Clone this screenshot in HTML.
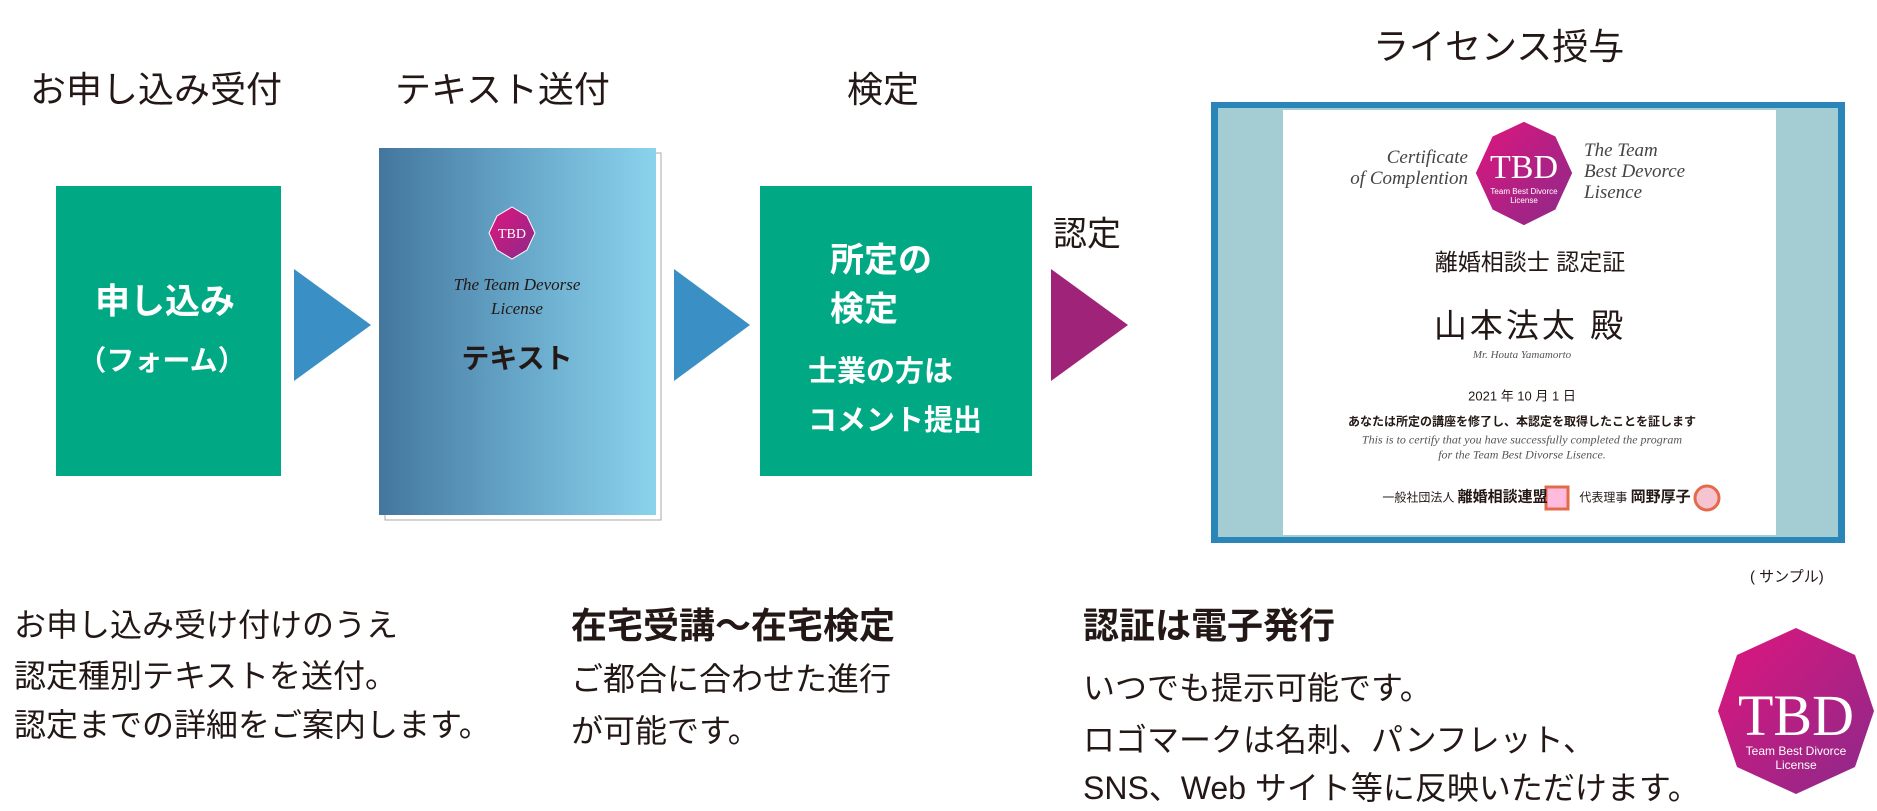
<!DOCTYPE html>
<html><head><meta charset="utf-8"><style>
body{margin:0;width:1877px;height:811px;background:#fff;position:relative;overflow:hidden;font-family:"Liberation Sans","Noto Sans CJK JP",sans-serif;color:#231815}
.a{position:absolute;white-space:nowrap}
.c{transform:translate(-50%,-50%)}
.l{transform:translateY(-50%)}
.g{background:#00a884;position:absolute}
.w{color:#fff;font-weight:bold}
.serif{font-family:"Liberation Serif","Noto Serif CJK SC",serif;font-style:italic}
</style></head><body>
<div class="a l" style="left:30px;top:87px;font-size:36px">お申し込み受付</div>
<div class="a l" style="left:395px;top:87px;font-size:36px">テキスト送付</div>
<div class="a l" style="left:847px;top:87px;font-size:36px">検定</div>
<div class="a l" style="left:1373px;top:44px;font-size:36px">ライセンス授与</div>

<div class="g" style="left:56px;top:186px;width:225px;height:290px"></div>
<div class="a c w" style="left:165px;top:299px;font-size:35px">申し込み</div>
<div class="a c w" style="left:162px;top:359px;font-size:28px">（フォーム）</div>

<svg class="a" style="left:0;top:0" width="1877" height="811">
<polygon points="294,269 371,325 294,381" fill="#3a8fc4"/>
<polygon points="674,269 750,325 674,381" fill="#3a8fc4"/>
<polygon points="1051,269 1128,325 1051,381" fill="#a0237a"/>
<rect x="385" y="153" width="276" height="367" fill="#fff" stroke="#aaa" stroke-width="1"/>
<defs><linearGradient id="bg" x1="0" x2="1"><stop offset="0" stop-color="#44769d"/><stop offset="0.5" stop-color="#66a6c8"/><stop offset="1" stop-color="#8bd3ed"/></linearGradient>
<linearGradient id="pk" x1="0" x2="1" y1="0" y2="1"><stop offset="0" stop-color="#e0157d"/><stop offset="1" stop-color="#8a2a8a"/></linearGradient></defs>
<rect x="379" y="148" width="277" height="367" fill="url(#bg)"/>
<!-- small logo -->
<path d="M512,207 L527,216 L535,233 L527,250 L512,259 L497,250 L489,233 L497,216Z" fill="url(#pk)" stroke="#fff" stroke-width="1"/>
<text x="512" y="238" font-family="Liberation Serif" font-size="14" fill="#fff" text-anchor="middle">TBD</text>
<!-- certificate -->
<rect x="1211" y="102" width="634" height="441" fill="#2a86b8"/>
<rect x="1218" y="108" width="620" height="429" fill="#a3cdd3"/>
<rect x="1283" y="110" width="493" height="425" fill="#fff"/>
<path d="M1524,121 L1556,136 L1573,173 L1556,210 L1524,226 L1492,210 L1475,173 L1492,136Z" fill="url(#pk)" stroke="#fff" stroke-width="1.5"/>
<text x="1524" y="178" font-family="Liberation Serif" font-size="34" fill="#fff" text-anchor="middle">TBD</text>
<text x="1524" y="194" font-family="Liberation Sans" font-size="8" fill="#fff" text-anchor="middle">Team Best Divorce</text>
<text x="1524" y="203" font-family="Liberation Sans" font-size="8" fill="#fff" text-anchor="middle">License</text>
<rect x="1546" y="487" width="22" height="22" fill="#fbd" stroke="#e56a4a" stroke-width="3"/>
<circle cx="1707" cy="498" r="12" fill="#f6c3d0" stroke="#e56a4a" stroke-width="3"/>
<!-- big logo -->
<path d="M1796,628 L1855,655 L1874,711 L1855,767 L1796,794 L1737,767 L1718,711 L1737,655Z" fill="url(#pk)"/>
<text x="1796" y="735" font-family="Liberation Serif" font-size="58" fill="#fff" text-anchor="middle">TBD</text>
<text x="1796" y="755" font-family="Liberation Sans" font-size="12" fill="#fff" text-anchor="middle">Team Best Divorce</text>
<text x="1796" y="769" font-family="Liberation Sans" font-size="12" fill="#fff" text-anchor="middle">License</text>
</svg>

<div class="a c serif" style="left:517px;top:285px;font-size:17px">The Team Devorse</div>
<div class="a c serif" style="left:517px;top:309px;font-size:17px">License</div>
<div class="a c" style="left:517px;top:357px;font-size:28px;font-weight:bold">テキスト</div>

<div class="g" style="left:760px;top:186px;width:272px;height:290px"></div>
<div class="a l w" style="left:830px;top:257px;font-size:34px">所定の</div>
<div class="a l w" style="left:830px;top:306px;font-size:34px">検定</div>
<div class="a l w" style="left:808px;top:369px;font-size:29px">士業の方は</div>
<div class="a l w" style="left:808px;top:418px;font-size:29px">コメント提出</div>
<div class="a l" style="left:1053px;top:231px;font-size:34px">認定</div>

<div class="a serif" style="right:409px;top:147px;font-size:19px;text-align:right;line-height:21px;color:#444">Certificate<br>of Complention</div>
<div class="a serif" style="left:1584px;top:140px;font-size:19px;line-height:21px;color:#444">The Team<br>Best Devorce<br>Lisence</div>
<div class="a c" style="left:1530px;top:260px;font-size:23px">離婚相談士 認定証</div>
<div class="a c" style="left:1530px;top:323px;font-size:33px;letter-spacing:3px">山本法太 殿</div>
<div class="a c serif" style="left:1522px;top:355px;font-size:11px;color:#555">Mr. Houta Yamamorto</div>
<div class="a c" style="left:1522px;top:395px;font-size:13px">2021 年 10 月 1 日</div>
<div class="a c" style="left:1522px;top:421px;font-size:12px;font-weight:bold">あなたは所定の講座を修了し、本認定を取得したことを証します</div>
<div class="a c serif" style="left:1522px;top:440px;font-size:12px;color:#555">This is to certify that you have successfully completed the program</div>
<div class="a c serif" style="left:1522px;top:455px;font-size:12px;color:#555">for the Team Best Divorse Lisence.</div>
<div class="a c" style="left:1465px;top:496px;font-size:12px">一般社団法人 <b style="font-size:15px">離婚相談連盟</b></div>
<div class="a c" style="left:1635px;top:496px;font-size:12px">代表理事 <b style="font-size:15px">岡野厚子</b></div>
<div class="a l" style="left:1750px;top:576px;font-size:15px">( サンプル)</div>

<div class="a l" style="left:14px;top:623px;font-size:32px">お申し込み受け付けのうえ</div>
<div class="a l" style="left:14px;top:674px;font-size:32px">認定種別テキストを送付。</div>
<div class="a l" style="left:14px;top:723px;font-size:32px">認定までの詳細をご案内します。</div>
<div class="a l" style="left:571px;top:623px;font-size:36px;font-weight:bold">在宅受講～在宅検定</div>
<div class="a l" style="left:571px;top:677px;font-size:32px">ご都合に合わせた進行</div>
<div class="a l" style="left:571px;top:729px;font-size:32px">が可能です。</div>
<div class="a l" style="left:1083px;top:623px;font-size:36px;font-weight:bold">認証は電子発行</div>
<div class="a l" style="left:1083px;top:686px;font-size:32px">いつでも提示可能です。</div>
<div class="a l" style="left:1083px;top:738px;font-size:32px">ロゴマークは名刺、パンフレット、</div>
<div class="a l" style="left:1083px;top:786px;font-size:32px">SNS、Web サイト等に反映いただけます。</div>
</body></html>
